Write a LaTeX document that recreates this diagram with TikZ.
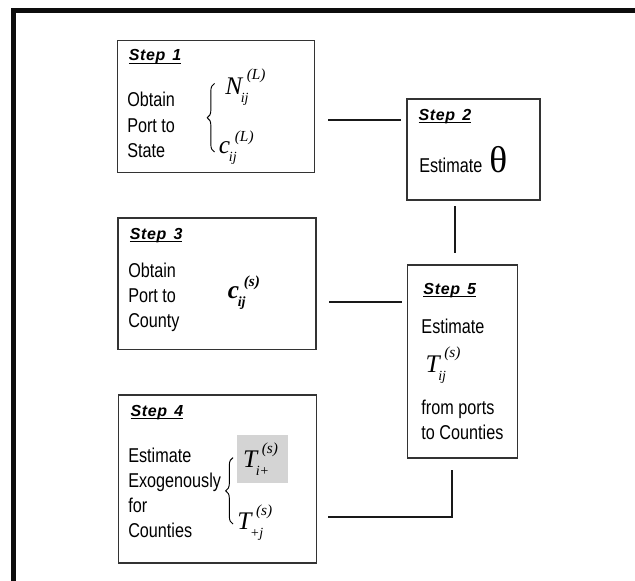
\documentclass[tikz,border=0pt]{standalone}
\usepackage{fontspec}
\setmainfont{Liberation Sans}
\newfontfamily\bodyfont[FakeStretch=0.81]{Liberation Sans}
\newfontfamily\stepfont[LetterSpace=4,WordSpace=1.4]{Liberation Sans}
\newfontfamily\tmsfont{Liberation Serif}
\usetikzlibrary{calc,decorations.pathreplacing}

% symbol with subscript and superscript: base, sub, sup, raise of sup
\newcommand{\msym}[4]{%
  {\fontsize{19}{19}\selectfont #1}%
  \rlap{\raisebox{-6pt}{\kern-1pt\fontsize{10.5}{10.5}\selectfont #2}}%
  \kern3.5pt\raisebox{#4}{\fontsize{11.5}{11.5}\selectfont #3}}

\tikzset{
  stepbox/.style={draw=black!80,line width=0.8pt,inner sep=0pt,outer sep=0pt},
  steplabel/.style={anchor=base west,inner sep=0pt,
    font=\stepfont\bfseries\itshape\fontsize{12}{13}\selectfont},
  body/.style={anchor=base west,inner sep=0pt,align=left,
    font=\bodyfont\fontsize{15}{18.75}\selectfont},
  symb/.style={anchor=base west,inner sep=0pt,font=\tmsfont\itshape},
  link/.style={black!90,line width=1.6pt},
  brace/.style={decorate,decoration={brace,amplitude=5.5pt},line width=0.7pt}
}

\begin{document}
\begin{tikzpicture}[x=0.75pt,y=-0.75pt]
  \path[use as bounding box] (0,0) rectangle (635,581);
  \draw[line width=3.75pt,black!95] (13.5,10.5) rectangle (660,600);

  % boxes
  \node[stepbox,minimum width=147.9pt,minimum height=99.2pt] (s1) at (216.1,106.2) {};
  \node[stepbox,minimum width=99.75pt,minimum height=75.75pt] (s2) at (473.5,149.5) {};
  \node[stepbox,minimum width=148.5pt,minimum height=98.6pt] (s3) at (217,283.7) {};
  \node[stepbox,minimum width=148.2pt,minimum height=126pt] (s4) at (217.5,479) {};
  \node[stepbox,minimum width=82.5pt,minimum height=144.75pt] (s5) at (462.5,361.5) {};

  % step 1 (base of a block = base of its last line)
  \node[steplabel] (l1) at (128.5,61) {\underbar{Step 1}};
  \node[body] (b1) at (127,157) {Obtain\\Port to\\State};
  \draw[brace] (214.5,152) -- (214.5,83.5);
  \node[symb] (n1) at (225,94.5) {\msym{N}{ij}{(L)}{11pt}};
  \node[symb] (c1) at (218.7,153.8) {\msym{c}{ij}{(L)}{9pt}};

  % step 2
  \node[steplabel] (l2) at (418.4,120.5) {\underbar{Step 2}};
  \node[body] (b2) at (419,173) {Estimate};
  \node[anchor=base west,inner sep=0pt,font=\tmsfont\fontsize{28}{28}\selectfont]
    (th) at (489,173) {θ};

  % step 3
  \node[steplabel] (l3) at (129.6,239) {\underbar{Step 3}};
  \node[body] (b3) at (128,327) {Obtain\\Port to\\County};
  \node[symb,font=\tmsfont\bfseries\itshape] (c3) at (227.6,298.3) {\msym{c}{ij}{(s)}{9pt}};

  % step 4
  \node[steplabel] (l4) at (130.4,416) {\underbar{Step 4}};
  \node[body] (b4) at (128,537) {Estimate\\Exogenously\\for\\Counties};
  \draw[brace] (233,524) -- (233,457.6);
  \node[symb,anchor=center,fill=black!17,minimum width=38.25pt,minimum height=36.4pt]
    (t4) at (262.5,459.2) {\msym{T}{i+}{(s)}{11pt}\kern3pt};
  \node[symb] (t5) at (237,529.8) {\msym{T}{+j}{(s)}{11pt}};

  % step 5
  \node[steplabel] (l5) at (423.2,294.5) {\underbar{Step 5}};
  \node[body] (b5) at (421.2,333) {Estimate};
  \node[symb] (tij) at (425.3,372.4) {\msym{T}{ij}{(s)}{11pt}};
  \node[body] (b6) at (421.2,439) {from ports\\to Counties};

  % connectors
  \coordinate (h12) at (0,120.4);
  \coordinate (h35) at (0,302);
  \coordinate (h45) at (0,517);
  \coordinate (v25) at (455,0);
  \coordinate (v45) at (451.6,0);
  \draw[link,shorten <=10pt,shorten >=4.5pt] (s1.east |- h12) -- (s2.west |- h12);
  \draw[link,shorten <=4.5pt,shorten >=9pt] (s2.south -| v25) -- (s5.north -| v25);
  \draw[link,shorten <=10pt,shorten >=4pt] (s3.east |- h35) -- (s5.west |- h35);
  \draw[link,shorten <=9pt,shorten >=9pt] (s4.east |- h45) -- (v45 |- h45) -- (s5.south -| v45);
\end{tikzpicture}
\end{document}
